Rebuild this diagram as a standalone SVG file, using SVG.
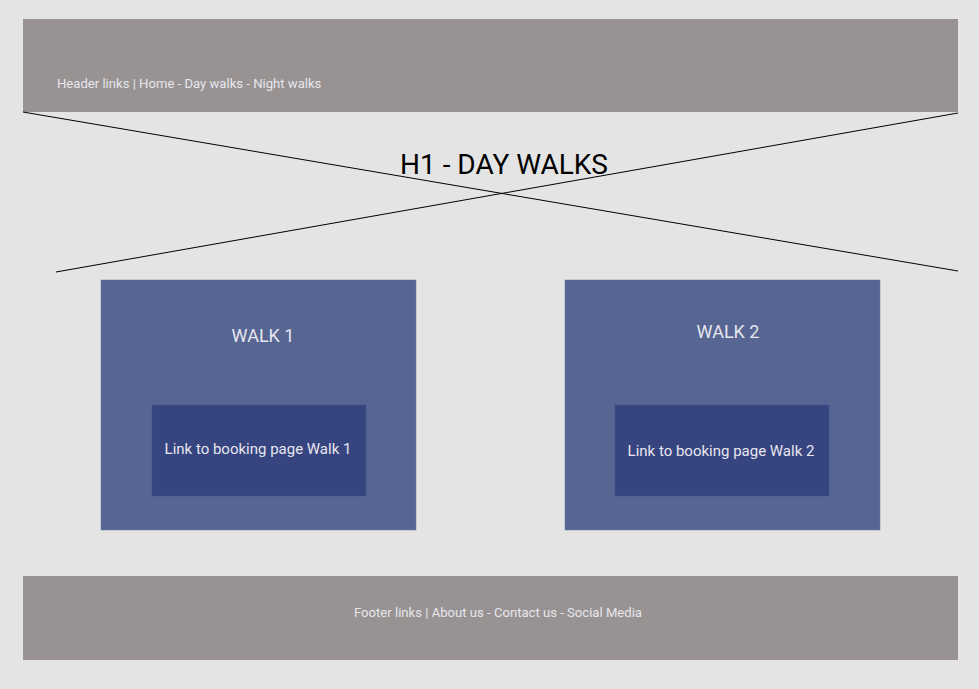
<svg xmlns="http://www.w3.org/2000/svg" width="979" height="689" viewBox="0 0 979 689">
<style>
.bar{fill:#989392}
.card{fill:#576592;stroke:#6a77a0;stroke-width:0.5}
.btn{fill:#364580;stroke:#46548a;stroke-width:0.5}
.lt{font-family:Roboto,"Liberation Sans",sans-serif;fill:#e6e6ee}
.ln{stroke:#000;stroke-width:1;fill:none}
</style>
<rect width="979" height="689" fill="#e4e4e4"/>
<g id="header">
<rect class="bar" x="23" y="19" width="935" height="93"/>
<text class="lt" x="57" y="88" font-size="13.1" fill="#e2e0e0">Header links | Home - Day walks - Night walks</text>
</g>
<g id="connectors">
<line class="ln" x1="23" y1="112" x2="958" y2="271"/>
<line class="ln" x1="958" y1="113" x2="56" y2="272"/>
</g>
<g id="h1">
<text x="504" y="174" font-size="28" text-anchor="middle" font-family="Roboto,'Liberation Sans',sans-serif" fill="#000">H1 - DAY WALKS</text>
</g>
<g id="walk1">
<rect class="card" x="101" y="280" width="315" height="250"/>
<text class="lt" x="263" y="342" font-size="18" text-anchor="middle">WALK 1</text>
<g id="link1">
<rect class="btn" x="152" y="405" width="214" height="91"/>
<text class="lt" x="258" y="454" font-size="15" text-anchor="middle">Link to booking page Walk 1</text>
</g>
</g>
<g id="walk2">
<rect class="card" x="565" y="280" width="315" height="250"/>
<text class="lt" x="728" y="338" font-size="18" text-anchor="middle">WALK 2</text>
<g id="link2">
<rect class="btn" x="615" y="405" width="214" height="91"/>
<text class="lt" x="721" y="456" font-size="15" text-anchor="middle">Link to booking page Walk 2</text>
</g>
</g>
<g id="footer">
<rect class="bar" x="23" y="576" width="935" height="84"/>
<text class="lt" x="498" y="617" font-size="13" text-anchor="middle" textLength="288" lengthAdjust="spacingAndGlyphs">Footer links | About us - Contact us - Social Media</text>
</g>
</svg>
